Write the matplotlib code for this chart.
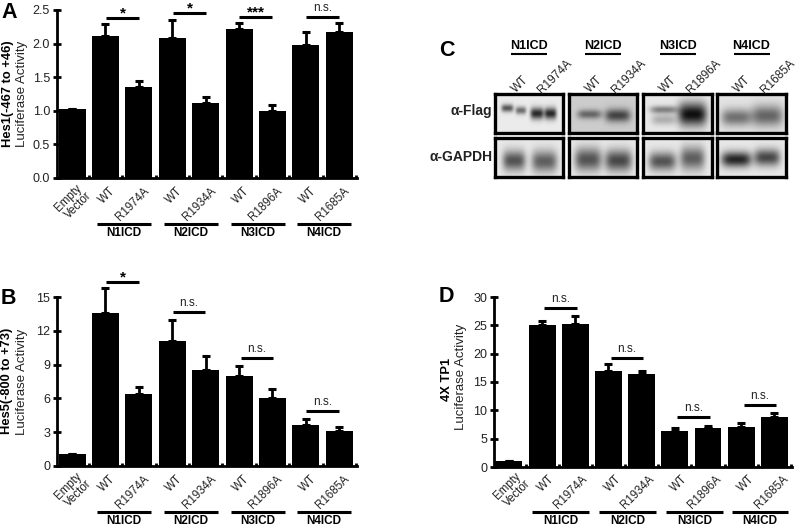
import matplotlib
matplotlib.use("Agg")
import matplotlib.pyplot as plt
import numpy as np

plt.rcParams["font.family"] = ["Liberation Sans", "DejaVu Sans"]

W, H = 798, 527

labels = ["WT", "R1974A", "WT", "R1934A", "WT", "R1896A", "WT", "R1685A"]
groups = ["N1ICD", "N2ICD", "N3ICD", "N4ICD"]

hes1_vals = [1.02, 2.11, 1.35, 2.08, 1.11, 2.22, 1.00, 1.98, 2.18]
hes1_tops = [1.02, 2.29, 1.45, 2.35, 1.20, 2.30, 1.09, 2.17, 2.30]
hes1_ticks = ["0.0", "0.5", "1.0", "1.5", "2.0", "2.5"]

hes5_vals = [1.1, 13.6, 6.4, 11.1, 8.5, 8.0, 6.0, 3.6, 3.1]
hes5_tops = [1.1, 15.8, 7.0, 13.0, 9.8, 8.9, 6.8, 4.2, 3.5]
hes5_ticks = ["0", "3", "6", "9", "12", "15"]

tp1_vals = [1.1, 25.1, 25.2, 16.9, 16.4, 6.4, 6.8, 7.0, 8.8]
tp1_tops = [1.1, 25.8, 26.7, 18.2, 17.0, 6.8, 7.2, 7.8, 9.6]
tp1_ticks = ["0", "5", "10", "15", "20", "25", "30"]

# (x0, x1, y, text) in picture pixels
sig_a = [(106, 139, 18, "*"), (173, 206, 13, "*"), (239, 272, 17, "***"), (306, 339, 17, "n.s.")]
sig_b = [(106, 139, 282, "*"), (173, 205, 312, "n.s."), (241, 273, 358, "n.s."), (306, 339, 411, "n.s.")]
sig_d = [(544, 577, 308, "n.s."), (611, 643, 358, "n.s."), (677, 710, 417, "n.s."), (744, 776, 405, "n.s.")]

# western blot bands per lane: (x, y, half width, half height, darkness)
flag_bands = [
    [[(0.18, 0.36, .09, .10, .65), (0.38, 0.42, .08, .10, .55)], [(0.62, 0.50, .10, .15, .85), (0.82, 0.50, .09, .15, .85)]],
    [[(0.30, 0.52, .18, .12, .45)], [(0.72, 0.55, .19, .17, .6)]],
    [[(0.30, 0.40, .20, .10, .45), (0.30, 0.66, .18, .14, .25)], [(0.72, 0.52, .21, .30, .95)]],
    [[(0.28, 0.60, .22, .22, .5)], [(0.73, 0.56, .23, .27, .55)]],
]
gapdh_bands = [
    [[(0.28, 0.58, .17, .26, .65)], [(0.73, 0.60, .19, .28, .6)]],
    [[(0.28, 0.55, .20, .30, .65)], [(0.73, 0.58, .20, .28, .7)]],
    [[(0.28, 0.60, .20, .24, .65)], [(0.72, 0.52, .18, .30, .6)]],
    [[(0.28, 0.55, .22, .20, .85)], [(0.73, 0.50, .19, .22, .7)]],
]
blot_bg = [0.92, 0.80, 0.91, 0.89]
blot_x = [(495, 563), (569, 637), (643, 712), (717, 786)]

fig = plt.figure(figsize=(W / 100, H / 100), dpi=100)


def px_axes(x0, x1, y_top, y_bot):
    return fig.add_axes([x0 / W, 1 - y_bot / H, (x1 - x0) / W, (y_bot - y_top) / H])


def bars(x0, x1, y_top, y_bot, vals, tops, ticks, ymax):
    ax = px_axes(x0, x1, y_top, y_bot)
    xs = np.arange(len(vals))
    errs = [np.zeros(len(vals)), np.array(tops) - np.array(vals)]
    cont = ax.bar(xs, vals, width=0.81, color="black",
                  yerr=errs, ecolor="black", error_kw=dict(elinewidth=2, capsize=3.2, capthick=2.2))
    _, caps, lines = cont.errorbar.lines
    for art in list(caps) + list(lines):
        art.set_clip_on(False)
    ax.set_xlim(-0.45, 8.53)
    ax.set_ylim(0, ymax)
    ax.set_yticks(np.linspace(0, ymax, len(ticks)))
    ax.set_yticklabels(ticks, fontsize=9, color="#222222")
    ax.set_xticks(xs + 0.5)
    ax.set_xticklabels([])
    ax.tick_params(axis="x", direction="in", length=2.5, width=2)
    ax.tick_params(axis="y", direction="inout", length=6, width=2, pad=2)
    ax.spines["top"].set_visible(False)
    ax.spines["right"].set_visible(False)
    ax.spines["left"].set_linewidth(2)
    ax.spines["bottom"].set_linewidth(2)
    ax.patch.set_alpha(0)
    return ax


bars(57, 357, 10, 178, hes1_vals, hes1_tops, hes1_ticks, 2.5)
bars(57, 357, 297, 466, hes5_vals, hes5_tops, hes5_ticks, 15)
bars(494, 792, 297, 467, tp1_vals, tp1_tops, tp1_ticks, 30)

# overlay in picture pixels for annotations
ov = fig.add_axes([0, 0, 1, 1], zorder=5)
ov.set_xlim(0, W)
ov.set_ylim(H, 0)
ov.axis("off")


def lane_text(x_first, y_base, line_spans):
    ov.text(x_first + 4, y_base + 4, "Empty", rotation=45, ha="right", va="top",
            rotation_mode="anchor", fontsize=8.3, color="#222222")
    ov.text(x_first + 14, y_base + 12, "Vector", rotation=45, ha="right", va="top",
            rotation_mode="anchor", fontsize=8.3, color="#222222")
    for i, lab in enumerate(labels):
        cx = x_first + 33.4 * (i + 1)
        ov.text(cx + 4, y_base + 7, lab, rotation=45, ha="right", va="top",
                rotation_mode="anchor", fontsize=8.3, color="#222222")
    for (a, b), g in zip(line_spans, groups):
        ov.plot([a, b], [y_base + 46, y_base + 46], color="black", lw=2.2, solid_capstyle="butt")
        ov.text((a + b) / 2, y_base + 55, g, ha="center", va="center", fontsize=8.5, fontweight="bold")


spans = [(97, 151), (164, 218), (231, 285), (297, 351)]
lane_text(72, 178, spans)
lane_text(72, 466, spans)
lane_text(510.6, 466, [(532, 589), (599, 656), (666, 723), (732, 788)])


def sig_marks(items):
    for a, b, y, t in items:
        ov.plot([a, b], [y, y], color="black", lw=2.2, solid_capstyle="butt")
        if t == "n.s.":
            ov.text((a + b) / 2, y - 3, t, ha="center", va="bottom", fontsize=8.5, color="#222222")
        else:
            ov.text((a + b) / 2, y - 0.5, t, ha="center", va="baseline", fontsize=11, fontweight="bold")


sig_marks(sig_a)
sig_marks(sig_b)
sig_marks(sig_d)

# y labels
ov.text(8, 94, "Hes1(-467 to +46)", rotation=90, ha="center", va="center", fontsize=9.3, fontweight="bold")
ov.text(22, 94, "Luciferase Activity", rotation=90, ha="center", va="center", fontsize=9.5, color="#222222")
ov.text(7, 381, "Hes5(-800 to +73)", rotation=90, ha="center", va="center", fontsize=9.3, fontweight="bold")
ov.text(22, 382, "Luciferase Activity", rotation=90, ha="center", va="center", fontsize=9.5, color="#222222")
ov.text(447, 379, "4X TP1", rotation=90, ha="center", va="center", fontsize=9.3, fontweight="bold")
ov.text(461, 377, "Luciferase Activity", rotation=90, ha="center", va="center", fontsize=9.5, color="#222222")

# panel letters
for letter, x, y in [("A", 1, 12), ("B", 1, 298), ("C", 439, 51), ("D", 439, 297)]:
    ov.text(x, y, letter, ha="left", va="center", fontsize=15.5, fontweight="bold")


def blot(x0, x1, y0, y1, lanes, bg):
    n_y, n_x = 60, 100
    yy, xx = np.mgrid[0:1:n_y * 1j, 0:1:n_x * 1j]
    img = np.zeros_like(xx)
    for lane in lanes:
        for cx, cy, sx, sy, dark in lane:
            img += dark * np.exp(-(((xx - cx) / sx) ** 4 + ((yy - cy) / sy) ** 2))
    img = np.clip(bg - 0.9 * img, 0.03, 1)
    ax = px_axes(x0, x1, y0, y1)
    ax.imshow(img, cmap="gray", vmin=0, vmax=1, aspect="auto", interpolation="bilinear")
    ax.set_xticks([])
    ax.set_yticks([])
    for s in ax.spines.values():
        s.set_linewidth(2.4)


for i, (x0, x1) in enumerate(blot_x):
    blot(x0, x1, 94, 133, flag_bands[i], blot_bg[i])
    blot(x0, x1, 138, 177, gapdh_bands[i], 0.91)
    cx = (x0 + x1) / 2
    ov.text(cx, 46, groups[i], ha="center", va="center", fontsize=9, fontweight="bold")
    ov.plot([cx - 18, cx + 18], [53.5, 53.5], color="black", lw=1.5, solid_capstyle="butt")
    ov.text(cx - 7, 74, "WT", rotation=45, ha="right", va="top", rotation_mode="anchor", fontsize=8.5, color="#222222")
    ov.text(cx + 37, 57, labels[2 * i + 1], rotation=45, ha="right", va="top", rotation_mode="anchor",
            fontsize=8.5, color="#222222")

ov.text(492, 111, "α-Flag", ha="right", va="center", fontsize=10, fontweight="bold", color="#222222")
ov.text(492, 157, "α-GAPDH", ha="right", va="center", fontsize=10, fontweight="bold", color="#222222")

fig.savefig("out.png", dpi=100)
